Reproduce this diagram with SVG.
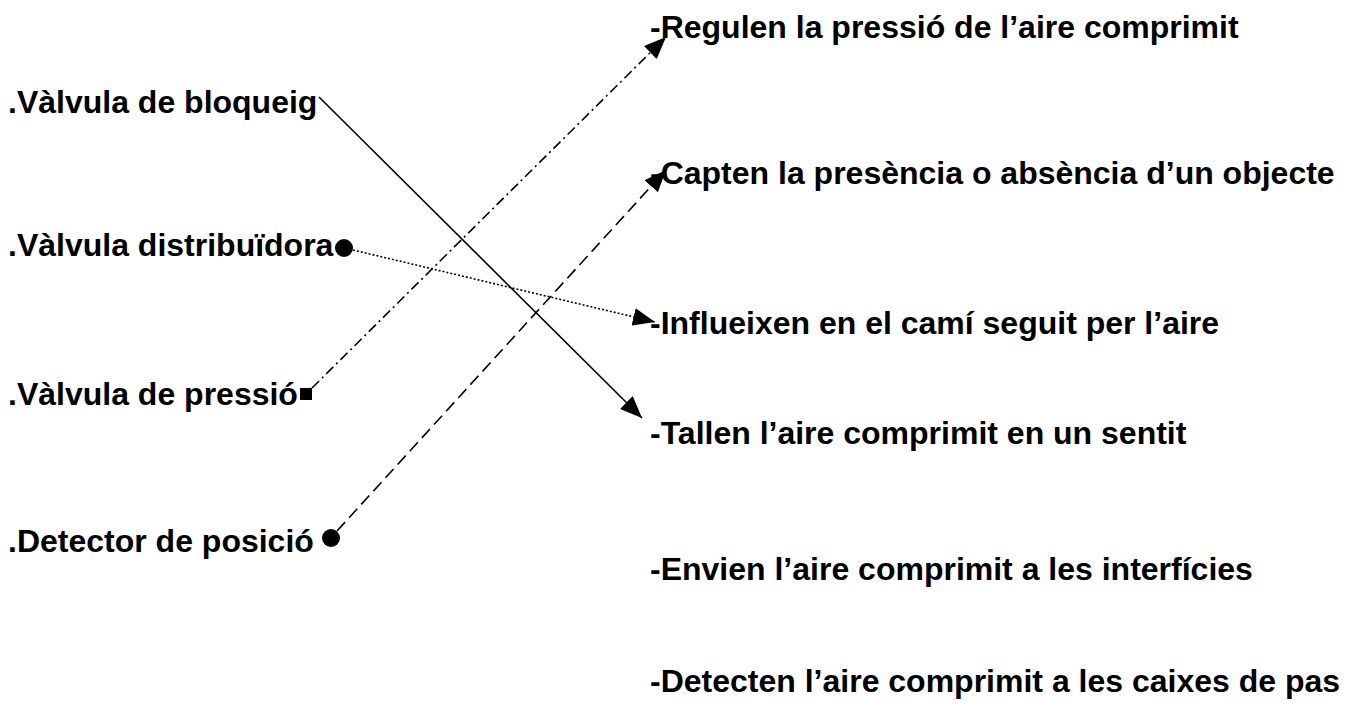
<svg xmlns="http://www.w3.org/2000/svg" width="1359" height="704" viewBox="0 0 1359 704">
<style>
text{font-family:"Liberation Sans",Arial,sans-serif;font-weight:bold;font-size:32px;fill:#000}
.c{fill:none;stroke:#000;stroke-width:1.6}
.dashdot{stroke-dasharray:10 4 2 4}
.dash{stroke-dasharray:12 6}
.dot{stroke-dasharray:2 2}
</style>
<defs>
<marker id="arr" viewBox="0 0 22 18" refX="22" refY="9" markerWidth="22" markerHeight="18" markerUnits="userSpaceOnUse" orient="auto">
<path d="M0,0 L22,9 L0,18 Z" fill="#000"/>
</marker>
</defs>
<rect width="1359" height="704" fill="#fff"/>
<g id="left-bloqueig"><text x="8" y="113">.Vàlvula de bloqueig</text></g>
<g id="left-distribuidora"><text x="8" y="256">.Vàlvula distribuïdora</text><circle cx="344" cy="248" r="9"/></g>
<g id="left-pressio"><text x="8" y="405">.Vàlvula de pressió</text><rect x="300" y="388" width="12" height="12"/></g>
<g id="left-detector"><text x="8" y="552">.Detector de posició</text><circle cx="331" cy="538" r="9"/></g>
<g id="right-regulen"><text x="650" y="38">-Regulen la pressió de l’aire comprimit</text></g>
<g id="right-capten"><text x="650" y="184">-Capten la presència o absència d’un objecte</text></g>
<g id="right-influeixen"><text x="650" y="334">-Influeixen en el camí seguit per l’aire</text></g>
<g id="right-tallen"><text x="650" y="444">-Tallen l’aire comprimit en un sentit</text></g>
<g id="right-envien"><text x="650" y="580">-Envien l’aire comprimit a les interfícies</text></g>
<g id="right-detecten"><text x="650" y="692">-Detecten l’aire comprimit a les caixes de pas</text></g>
<g id="connectors">
<line class="c" x1="319" y1="97" x2="642" y2="418" marker-end="url(#arr)"/>
<line class="c dot" x1="353" y1="250" x2="655" y2="322" marker-end="url(#arr)"/>
<line class="c dashdot" x1="312" y1="388" x2="666" y2="37" marker-end="url(#arr)"/>
<line class="c dash" x1="337" y1="531" x2="666" y2="170" marker-end="url(#arr)"/>
</g>
</svg>
